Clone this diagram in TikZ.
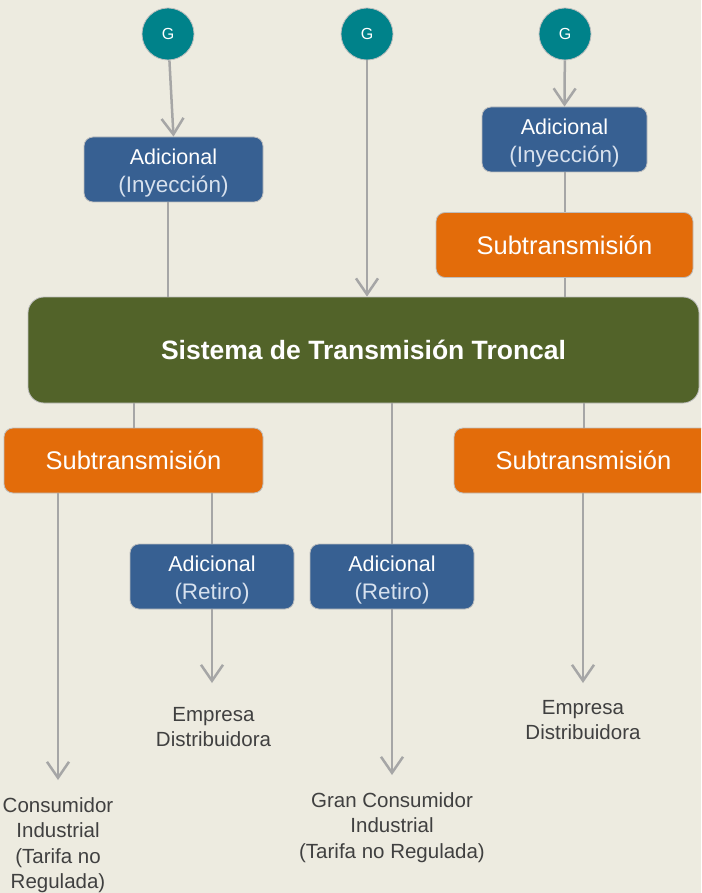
\documentclass[tikz,border=0pt]{standalone}
\usepackage{fontspec}
\setmainfont{Liberation Sans}
\usetikzlibrary{arrows.meta}
\definecolor{fondo}{RGB}{237,235,224}
\definecolor{verde}{RGB}{82,99,41}
\definecolor{naranja}{RGB}{227,108,10}
\definecolor{azul}{RGB}{55,96,146}
\definecolor{turquesa}{RGB}{0,130,138}
\definecolor{linea}{RGB}{166,166,166}
\definecolor{borde}{RGB}{190,190,190}
\definecolor{claro}{RGB}{215,225,238}
\definecolor{texto}{RGB}{64,64,64}
\newcommand{\caja}[2]{\rule{0pt}{22pt}#1\\{\fontsize{22.5}{28}\selectfont\color{claro}#2}}
\begin{document}
\begin{tikzpicture}[x=1pt,y=-1pt,
  gen/.style={circle,fill=turquesa,draw=borde,line width=0.8pt,minimum size=52pt,inner sep=0pt,text=white,font=\fontsize{16}{18}\selectfont},
  adic/.style={fill=azul,draw=borde,line width=0.8pt,rounded corners=9pt,minimum height=65pt,inner sep=0pt,text=white,align=center,font=\fontsize{21.5}{28}\selectfont},
  subt/.style={fill=naranja,draw=borde,line width=0.8pt,rounded corners=9pt,minimum width=257pt,minimum height=65pt,inner sep=0pt,text=white,font=\fontsize{25.5}{30}\selectfont},
  troncal/.style={fill=verde,draw=borde,line width=0.8pt,rounded corners=16pt,minimum width=671pt,minimum height=106pt,text=white,font=\fontsize{26.5}{30}\selectfont\bfseries},
  dest/.style={anchor=north,inner xsep=0pt,inner ysep=17pt,align=center,text=texto,font=\fontsize{20.5}{25.5}\selectfont},
  flecha/.style={draw=linea,line width=2.5pt,-{Straight Barb[length=16pt,width=22pt]}},
  tramo/.style={draw=linea,line width=2pt}]
\useasboundingbox (0,0) rectangle (701,893);
\clip (0,0) rectangle (701,893);
\fill[fondo] (0,0) rectangle (701,893);

\node[gen] (g1) at (168,34) {G};
\node[gen] (g2) at (367,34) {G};
\node[gen] (g3) at (565,34) {G};

\node[adic,minimum width=179pt] (adi1) at (173.5,169.5) {\caja{Adicional}{(Inyección)}};
\node[adic,minimum width=165pt] (adi2) at (564.5,139.5) {\caja{Adicional}{(Inyección)}};
\node[subt] (sub1) at (564.5,245) {Subtransmisión};
\node[troncal] (stt) at (363.5,350) {Sistema de Transmisión Troncal};
\node[subt,minimum width=259pt] (sub2) at (133.5,460.5) {Subtransmisión};
\node[subt,minimum width=259pt] (sub3) at (583.5,460.5) {Subtransmisión};
\node[adic,minimum width=164pt] (ret1) at (212,576.5) {\caja{Adicional}{(Retiro)}};
\node[adic,minimum width=164pt] (ret2) at (392,576.5) {\caja{Adicional}{(Retiro)}};

\node[dest] (cons) at (58,780) {Consumidor\\Industrial\\(Tarifa no\\Regulada)};
\node[dest,inner ysep=24pt] (dist1) at (213.5,683) {Empresa\\Distribuidora};
\node[dest] (gran) at (392,775) {Gran Consumidor\\Industrial\\(Tarifa no Regulada)};
\node[dest] (dist2) at (583,683) {Empresa\\Distribuidora};

% entradas
\draw[flecha] (g1) -- (adi1.north);
\draw[tramo] (adi1.south -| g1) -- (stt.north -| g1);
\draw[flecha] (g2) -- (stt.north -| g2);
\draw[flecha] (g3) -- (adi2.north);
\draw[tramo] (adi2) -- (sub1);
\draw[tramo] (sub1) -- (stt.north -| sub1);

% salidas
\draw[tramo] (stt.south -| sub2) -- (sub2);
\draw[flecha] (sub2.south -| cons) -- (cons);
\draw[tramo] (sub2.south -| ret1) -- (ret1);
\draw[flecha] (ret1) -- (ret1 |- dist1.north);
\draw[tramo] (stt.south -| ret2) -- (ret2);
\draw[flecha] (ret2) -- (gran);
\draw[tramo] (stt.south -| sub3) -- (sub3);
\draw[flecha] (sub3.south -| dist2) -- (dist2);
\end{tikzpicture}
\end{document}
